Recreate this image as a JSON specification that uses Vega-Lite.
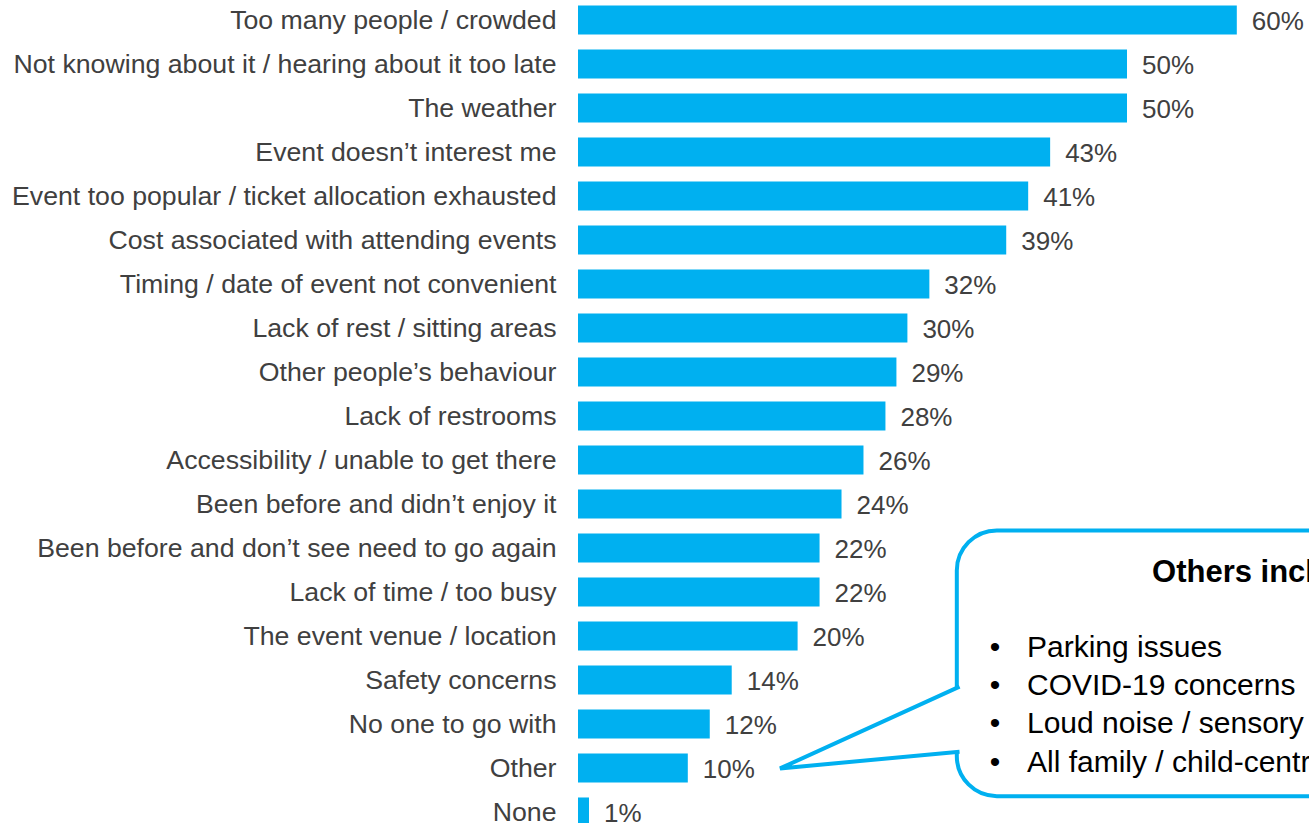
{
  "$schema": "https://vega.github.io/schema/vega-lite/v6.json",
  "width": 731,
  "height": 836,
  "autosize": {"type": "none"},
  "padding": {"left": 578, "top": -2, "right": 0, "bottom": -11},
  "background": "white",
  "config": {"view": {"stroke": null}, "font": "Liberation Sans"},
  "datasets": {
    "bars": [
      {"reason": "Too many people / crowded", "share": 0.60},
      {"reason": "Not knowing about it / hearing about it too late", "share": 0.50},
      {"reason": "The weather", "share": 0.50},
      {"reason": "Event doesn’t interest me", "share": 0.43},
      {"reason": "Event too popular / ticket allocation exhausted", "share": 0.41},
      {"reason": "Cost associated with attending events", "share": 0.39},
      {"reason": "Timing / date of event not convenient", "share": 0.32},
      {"reason": "Lack of rest / sitting areas", "share": 0.30},
      {"reason": "Other people’s behaviour", "share": 0.29},
      {"reason": "Lack of restrooms", "share": 0.28},
      {"reason": "Accessibility / unable to get there", "share": 0.26},
      {"reason": "Been before and didn’t enjoy it", "share": 0.24},
      {"reason": "Been before and don’t see need to go again", "share": 0.22},
      {"reason": "Lack of time / too busy", "share": 0.22},
      {"reason": "The event venue / location", "share": 0.20},
      {"reason": "Safety concerns", "share": 0.14},
      {"reason": "No one to go with", "share": 0.12},
      {"reason": "Other", "share": 0.10},
      {"reason": "None", "share": 0.01}
    ],
    "tail": [
      {"o": 1, "x": 0.3475, "y": 15.65},
      {"o": 2, "x": 0.184, "y": 17.51},
      {"o": 3, "x": 0.3475, "y": 17.13}
    ]
  },
  "layer": [
    {
      "data": {"name": "bars"},
      "layer": [
        {
          "mark": {"type": "bar", "color": "#00B0F0"},
          "encoding": {
            "y": {
              "field": "reason", "type": "nominal", "sort": null,
              "scale": {"paddingInner": 0.34, "paddingOuter": 0.17},
              "axis": {
                "title": null, "ticks": false, "domain": false, "grid": false,
                "labelFontSize": 26.7, "labelColor": "#404040", "labelFont": "Liberation Sans",
                "labelPadding": 22, "labelLimit": 700, "labelOffset": 0.5
              }
            },
            "x": {
              "field": "share", "type": "quantitative",
              "scale": {"domain": [0, 0.66575], "nice": false, "zero": true},
              "axis": null
            }
          }
        },
        {
          "mark": {"type": "text", "align": "left", "baseline": "middle", "dx": 15, "dy": 2, "fontSize": 26, "color": "#404040"},
          "encoding": {
            "y": {"field": "reason", "type": "nominal", "sort": null},
            "x": {"field": "share", "type": "quantitative"},
            "text": {"field": "share", "type": "quantitative", "format": ".0%"}
          }
        }
      ]
    },
    {
      "data": {"values": [{}]},
      "layer": [
        {
          "mark": {"type": "rect", "fill": "white", "stroke": "#00B0F0", "strokeWidth": 4, "cornerRadius": 40},
          "encoding": {
            "x": {"datum": 0.345, "type": "quantitative", "scale": {"domain": [0, 0.66575], "nice": false}},
            "x2": {"datum": 0.85},
            "y": {"datum": 12.1, "type": "quantitative", "scale": {"domain": [0, 19], "reverse": true, "nice": false, "zero": false}, "axis": null},
            "y2": {"datum": 18.14}
          }
        },
        {
          "data": {"name": "tail"},
          "mark": {"type": "line", "fill": "white", "stroke": "#00B0F0", "strokeWidth": 4, "strokeJoin": "miter"},
          "encoding": {
            "x": {"field": "x", "type": "quantitative"},
            "y": {"field": "y", "type": "quantitative"},
            "order": {"field": "o", "type": "quantitative"}
          }
        },
        {
          "mark": {"type": "text", "text": "Others include:", "align": "left", "baseline": "alphabetic", "fontSize": 31, "fontWeight": "bold", "color": "#000000"},
          "encoding": {
            "x": {"datum": 0.5228, "type": "quantitative"},
            "y": {"datum": 13.27, "type": "quantitative"}
          }
        },
        {
          "mark": {"type": "text", "text": ["•", "•", "•", "•"], "align": "center", "baseline": "alphabetic", "fontSize": 30, "lineHeight": 38.3, "color": "#000000"},
          "encoding": {
            "x": {"datum": 0.3798, "type": "quantitative"},
            "y": {"datum": 14.97, "type": "quantitative"}
          }
        },
        {
          "mark": {"type": "text", "text": ["Parking issues", "COVID-19 concerns", "Loud noise / sensory overload", "All family / child-centred events"], "align": "left", "baseline": "alphabetic", "fontSize": 30, "lineHeight": 38.3, "color": "#000000"},
          "encoding": {
            "x": {"datum": 0.4089, "type": "quantitative"},
            "y": {"datum": 14.97, "type": "quantitative"}
          }
        }
      ]
    }
  ],
  "resolve": {"scale": {"y": "independent"}, "axis": {"y": "independent"}}
}
